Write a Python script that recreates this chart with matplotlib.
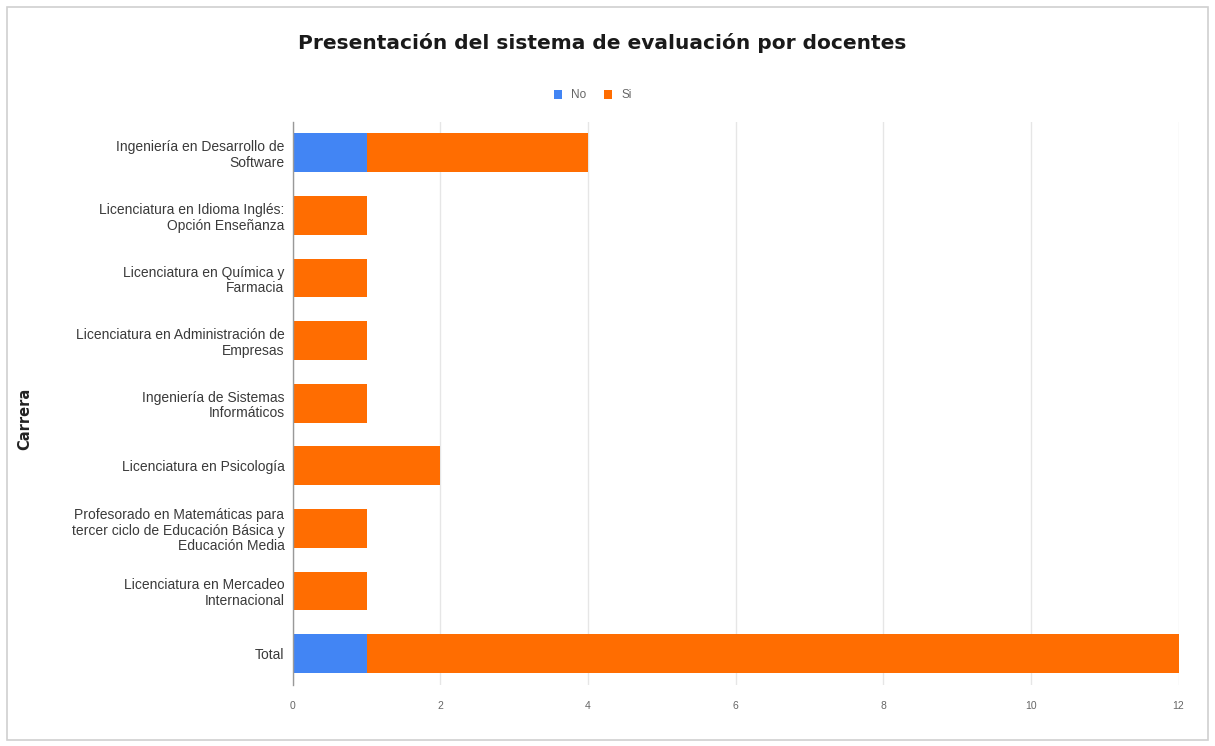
import matplotlib
matplotlib.use("Agg")
import matplotlib.pyplot as plt
from matplotlib.patches import Rectangle

categories = [
    "Ingeniería en Desarrollo de\nSoftware",
    "Licenciatura en Idioma Inglés:\nOpción Enseñanza",
    "Licenciatura en Química y\nFarmacia",
    "Licenciatura en Administración de\nEmpresas",
    "Ingeniería de Sistemas\nInformáticos",
    "Licenciatura en Psicología",
    "Profesorado en Matemáticas para\ntercer ciclo de Educación Básica y\nEducación Media",
    "Licenciatura en Mercadeo\nInternacional",
    "Total",
]
no_values = [1, 0, 0, 0, 0, 0, 0, 0, 1]
si_values = [3, 1, 1, 1, 1, 2, 1, 1, 11]
xticks = [0, 2, 4, 6, 8, 10, 12]

title = "Presentación del sistema de evaluación por docentes"
ylabel = "Carrera"

plt.rcParams['font.family'] = ['Liberation Sans', 'DejaVu Sans']

fig = plt.figure(figsize=(12.15, 7.46), dpi=100)
fig.patch.set_facecolor("white")
fig.add_artist(Rectangle((0.006, 0.008), 0.988, 0.982, transform=fig.transFigure,
                         fill=False, edgecolor="#d0d0d0", linewidth=1.2))

ax = fig.add_axes([0.241, 0.082, 0.729, 0.755])
y = list(range(len(categories)))
ax.barh(y, no_values, height=0.62, color="#4285F4", label="No", zorder=3)
ax.barh(y, si_values, left=no_values, height=0.62, color="#FF6D01", label="Si", zorder=3)

ax.set_ylim(len(categories) - 0.5, -0.5)
ax.set_xlim(0, 12)
ax.set_xticks(xticks)
ax.set_xticklabels([str(v) for v in xticks], fontsize=7.5, color="#666666")
ax.set_yticks(y)
ax.set_yticklabels(categories, fontsize=10, color="#3a3a3a", linespacing=1.15)
ax.tick_params(axis="x", length=0, pad=12)
ax.tick_params(axis="y", length=0, pad=6)
ax.grid(axis="x", color="#e6e6e6", linewidth=1, zorder=0)
for s in ["top", "right", "bottom"]:
    ax.spines[s].set_visible(False)
ax.spines["left"].set_color("#999999")
ax.spines["left"].set_linewidth(1)
ax.spines["left"].set_zorder(4)

fig.text(25 / 1215, 0.438, ylabel, rotation=90, ha="center", va="center",
         fontsize=10.5, fontweight="bold", color="#222222", family="DejaVu Sans")

fig.text(0.4955, 0.942, title, ha="center", va="center", fontsize=14.5,
         fontweight="bold", color="#1a1a1a", family="DejaVu Sans")

leg = fig.legend(loc="center", bbox_to_anchor=(0.488, 0.872), ncol=2, frameon=False,
                 fontsize=8.5, handlelength=0.7, handleheight=0.8, columnspacing=1.5,
                 handletextpad=0.8)
for t in leg.get_texts():
    t.set_color("#666666")

fig.savefig("out.png", dpi=100, facecolor="white")
